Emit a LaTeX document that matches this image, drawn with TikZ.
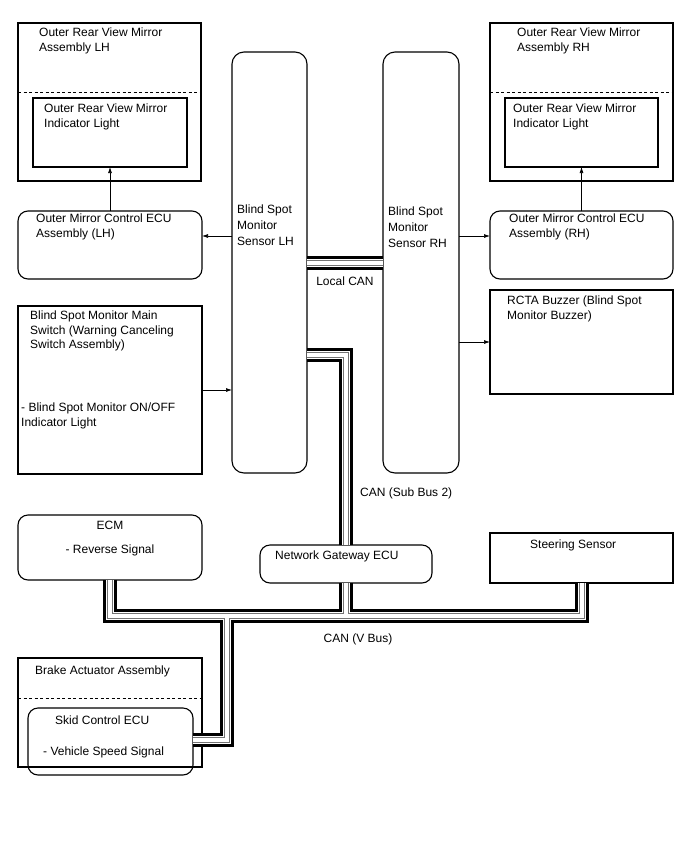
\documentclass[tikz,border=0pt]{standalone}
\usepackage{fontspec}
\setmainfont{Liberation Sans}
\usetikzlibrary{arrows.meta, positioning, calc}
\tikzset{
  box/.style   = {rectangle, draw, line width=1.1pt, anchor=north west,
                  inner sep=0pt, outer sep=0pt},
  rbox/.style  = {box, rounded corners=10pt},
  txt/.style   = {anchor=north west, align=left, inner sep=0pt,
                  font=\fontsize{12}{14.5}\selectfont, execute at begin node=\strut},
  lbl/.style   = {inner sep=0pt, font=\fontsize{12}{14.5}\selectfont},
  arrow/.style = {line width=0.7pt, -{Latex[length=6pt,width=4pt]}},
  sep/.style   = {line width=0.7pt, dash pattern=on 3pt off 2.5pt},
}

\begin{document}
\begin{tikzpicture}[x=1pt, y=-1pt]

    \path[fill=white, use as bounding box] (0,0) rectangle (688,852);

    %% Outer mirrors
    \node[box, minimum width=183pt, minimum height=158pt] (mirL) at (18,23) {};
    \node[box, minimum width=154pt, minimum height=69pt]  (lampL) at (33,98) {};
    \node[box, minimum width=183pt, minimum height=158pt] (mirR) at (490,23) {};
    \node[box, minimum width=153pt, minimum height=69pt]  (lampR) at (505,98) {};
    \draw[sep] (mirL.west |- 0,92) -- (mirL.east |- 0,92);
    \draw[sep] (mirR.west |- 0,92) -- (mirR.east |- 0,92);
    \node[txt] (mirLt)  at (39,28)  {Outer Rear View Mirror\\Assembly LH};
    \node[txt] (lampLt) at (44,104) {Outer Rear View Mirror\\Indicator Light};
    \node[txt] (mirRt)  at (517,28) {Outer Rear View Mirror\\Assembly RH};
    \node[txt] (lampRt) at (513,104) {Outer Rear View Mirror\\Indicator Light};

    %% Mirror control ECUs
    \node[rbox, minimum width=184pt, minimum height=68pt] (ecuL) at (18,211) {};
    \node[rbox, minimum width=183pt, minimum height=68pt] (ecuR) at (490,211) {};
    \node[txt] (ecuLt) at (36,214)  {Outer Mirror Control ECU\\Assembly (LH)};
    \node[txt] (ecuRt) at (509,214) {Outer Mirror Control ECU\\Assembly (RH)};

    %% Blind spot monitor sensors
    \node[rbox, rounded corners=12pt, minimum width=75pt, minimum height=421pt] (bsmL) at (232,52) {};
    \node[rbox, rounded corners=12pt, minimum width=76pt, minimum height=421pt] (bsmR) at (383,52) {};
    \node[txt, font=\fontsize{12}{16}\selectfont] (bsmLt) at (237,205) {Blind Spot\\Monitor\\Sensor LH};
    \node[txt, font=\fontsize{12}{16}\selectfont] (bsmRt) at (388,207) {Blind Spot\\Monitor\\Sensor RH};

    %% Main switch and buzzer
    \node[box, minimum width=184pt, minimum height=168pt] (sw) at (18,306) {};
    \node[txt] (swt1) at (30,311) {Blind Spot Monitor Main\\Switch (Warning Canceling\\Switch Assembly)};
    \node[txt] (swt2) at (21,403) {- Blind Spot Monitor ON/OFF\\Indicator Light};
    \node[box, minimum width=183pt, minimum height=104pt] (rcta) at (490,290) {};
    \node[txt] (rctat) at (507,296) {RCTA Buzzer (Blind Spot\\Monitor Buzzer)};

    %% V bus members
    \node[rbox, minimum width=184pt, minimum height=65pt] (ecm) at (18,515) {};
    \node[txt, anchor=north, align=center] (ecmt) at (110,521) {ECM\\[9.5pt]- Reverse Signal};
    \node[rbox, minimum width=172pt, minimum height=38pt] (gw) at (260,545) {};
    \node[txt] (gwt) at (275,549) {Network Gateway ECU};
    \node[box, minimum width=183pt, minimum height=50pt] (steer) at (490,533) {};
    \node[txt] (steert) at (530,538) {Steering Sensor};
    \node[box, minimum width=184pt, minimum height=109pt] (brake) at (18,658) {};
    \draw[sep] (brake.west |- 0,698) -- (brake.east |- 0,698);
    \node[txt] (braket) at (35,664) {Brake Actuator Assembly};
    \node[rbox, minimum width=165pt, minimum height=67pt] (skid) at (28,708) {};
    \node[txt] (skidt1) at (55,714) {Skid Control ECU};
    \node[txt] (skidt2) at (43,745) {- Vehicle Speed Signal};

    %% Arrows
    \coordinate (ya) at (0,236);
    \draw[arrow] (ecuL.north) -- (lampL.south);
    \draw[arrow] (ecuR.north) -- (lampR.south);
    \draw[arrow] (bsmL.west |- ya) -- (ecuL.east |- ya);
    \draw[arrow] (bsmR.east |- ya) -- (ecuR.west |- ya);
    \draw[arrow] (sw.east) -- (sw.east -| bsmL.west);
    \draw[arrow] (bsmR.east |- rcta.west) -- (rcta.west);

    %% CAN buses
    \coordinate (lcan) at (0,263);
    \coordinate (sub)  at (346,355);
    \coordinate (vbus) at (0,616);
    \coordinate (brk)  at (227,740);
    \foreach \w/\c in {14/black, 8/white, 6/black!55, 4/white} {
      \draw[line width=\w pt, draw=\c, line join=miter]
        (bsmL.east |- lcan) -- (bsmR.west |- lcan);
      \draw[line width=\w pt, draw=\c, line join=miter]
        (bsmL.east |- sub) -| (gw.north -| sub);
      \draw[line width=\w pt, draw=\c, line join=miter]
        (ecm.south) -- (ecm.south |- vbus) -- (steer.south |- vbus) -- (steer.south);
      \draw[line width=\w pt, draw=\c, line join=miter]
        (gw.south -| sub) -- (sub |- vbus);
      \draw[line width=\w pt, draw=\c, line join=miter]
        (brk |- vbus) -- (brk) -- (skid.east |- brk);
    }
    \node[lbl] (lcanl) at (345,281) {Local CAN};
    \node[lbl, anchor=west] (subl) at (360,493) {CAN (Sub Bus 2)};
    \node[lbl] (vbusl) at (358,639) {CAN (V Bus)};

  \end{tikzpicture}
\end{document}
